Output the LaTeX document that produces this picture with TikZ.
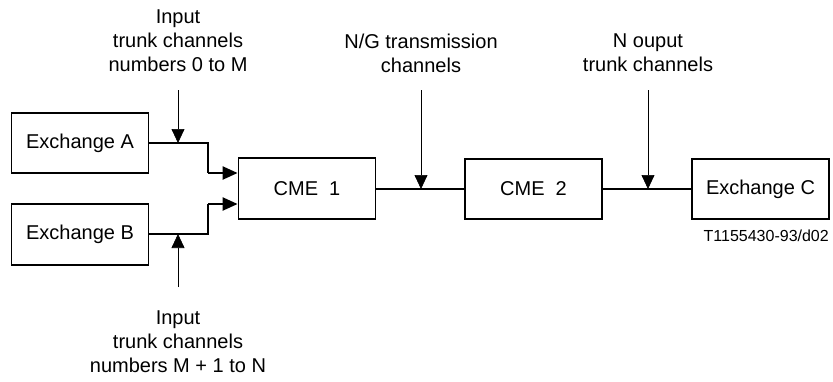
\documentclass[tikz,border=0pt]{standalone}
\usepackage{fontspec}
\setmainfont{Liberation Sans}
\usetikzlibrary{arrows.meta}
\begin{document}
\begin{tikzpicture}[x=1pt,y=-1pt,
  box/.style={draw,line width=1.8pt,minimum width=137pt,minimum height=60pt,inner sep=0pt,font=\fontsize{20}{24}\selectfont},
  link/.style={line width=2.2pt},
  feed/.style={line width=2.2pt,-{Triangle[length=15pt,width=13pt]}},
  probe/.style={line width=0.7pt,-{Triangle[length=14pt,width=13pt]}},
  lbl/.style={align=center,inner sep=0pt,anchor=north,font=\fontsize{20}{24}\selectfont}]
\useasboundingbox (0,0) rectangle (833,381);
\node[box] (exA) at (80,143) {Exchange A};
\node[box,minimum height=61pt] (exB) at (80,234.5) {Exchange B};
\node[box,minimum height=61pt] (cme1) at (307,188.5) {CME\ \ 1};
\node[box] (cme2) at (533.5,189) {CME\ \ 2};
\node[box] (exC) at (760.5,189) {Exchange C};
% junction coordinates
\coordinate (pA) at (178,143);
\coordinate (jA) at (208,143);
\coordinate (kA) at (208,173);
\coordinate (pB) at (178,234);
\coordinate (jB) at (208,234);
\coordinate (kB) at (208,204);
\coordinate (p12) at (421,189);
\coordinate (p2C) at (648,189);
\coordinate (sA) at (178,90);
\coordinate (sB) at (178,287);
\coordinate (s12) at (421,90);
\coordinate (s2C) at (648,90);
% thick links
\draw[link] (exA.east |- pA) -- (jA) -- (kA);
\draw[feed] (kA) -- (cme1.west |- kA);
\draw[link] (exB.east |- pB) -- (jB) -- (kB);
\draw[feed] (kB) -- (cme1.west |- kB);
\draw[link] (cme1.east |- p12) -- (cme2.west |- p12);
\draw[link] (cme2.east |- p2C) -- (exC.west |- p2C);
% thin probes
\draw[probe] (sA) -- (pA);
\draw[probe] (sB) -- (pB);
\draw[probe] (s12) -- (p12);
\draw[probe] (s2C) -- (p2C);
% labels
\node[lbl] (tA) at (178,10) {Input\\trunk channels\\numbers 0 to M};
\node[lbl] (tB) at (178,311) {Input\\trunk channels\\numbers M + 1 to N};
\node[lbl] (t12) at (421,34) {N/G transmission\\channels};
\node[lbl] (t2C) at (648,34) {N ouput\\trunk channels};
\node[anchor=base east,inner sep=0pt,font=\fontsize{16}{19}\selectfont] (ref) at (829,241) {T1155430-93/d02};
\end{tikzpicture}
\end{document}
